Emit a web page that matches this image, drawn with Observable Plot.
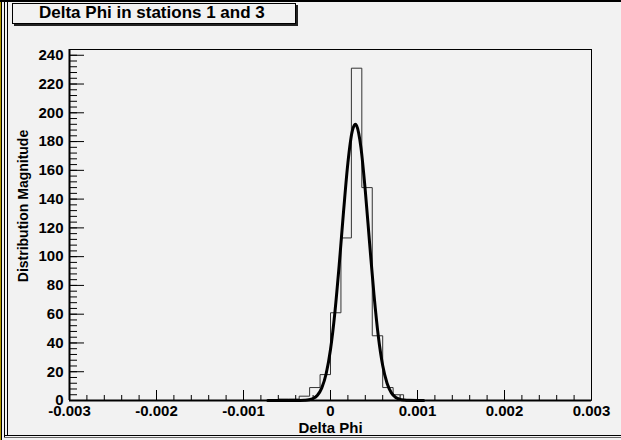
<!DOCTYPE html>
<html>
<head>
<meta charset="utf-8">
<script src="https://cdn.jsdelivr.net/npm/d3@7"></script>
<script src="https://cdn.jsdelivr.net/npm/@observablehq/plot@0.6"></script>
<style>
  html, body { margin: 0; padding: 0; background: #f2f2f2; }
  #wrap { position: relative; width: 621px; height: 440px; overflow: hidden; background: #f2f2f2;
          font-family: "Liberation Sans", Arial, sans-serif; }
  #chart { position: absolute; left: 0; top: 0; }
  .deco { position: absolute; background: #000; }
  #title { position: absolute; left: 12px; top: 3px; width: 284px; height: 21px; box-sizing: border-box;
           border: 1px solid #000; box-shadow: 2px 2px 0 #222; background: #f2f2f2;
           font-weight: bold; font-size: 17px; line-height: 18px; padding-left: 26px; color: #000; white-space: nowrap; }
</style>
</head>
<body>
<div id="wrap">
  <div id="chart"></div>
  <div class="deco" style="left:0;top:0;width:2px;height:440px;background:#b59a00"></div>
  <div class="deco" style="left:1px;top:0;width:1px;height:440px;"></div>
  <div class="deco" style="left:0;top:0;width:621px;height:2px;"></div>
  <div class="deco" style="left:4px;top:0;width:1px;height:437px;"></div>
  <div class="deco" style="left:7px;top:0;width:1px;height:435px;"></div>
  <div class="deco" style="left:4px;top:435px;width:617px;height:1px;"></div>
  <div class="deco" style="left:4px;top:437px;width:617px;height:1px;background:#666"></div>
  <div id="title">Delta Phi in stations 1 and 3</div>
</div>
<script>
// ---- data ----
const binLow = -0.003;
const binWidth = 0.00012;
const counts = [
  0,0,0,0,0,0,0,0,0,0,
  0,0,0,0,0,0,0,0,0,0,
  1,1,3,9,18,61,113,231,148,45,
  9,4,0,0,0,0,0,0,0,0,
  0,0,0,0,0,0,0,0,0,0
];
const fitX = [-0.00072,-0.0005,-0.0004,-0.0003,-0.00025,-0.0002,-0.00015,-0.0001,-0.00005,0,
              0.00005,0.0001,0.00015,0.0002,0.00025,0.000285,0.0003,0.00035,0.0004,0.00045,
              0.0005,0.00055,0.0006,0.00065,0.0007,0.00075,0.0008,0.00085,0.0009,0.001,0.00107];
const fitY = [0,0,0,0.2,0.5,1.4,3.7,8.8,18.6,35.4,
              60.9,94.2,131.4,165.2,187.2,192,191.1,175.8,145.8,109,
              73.4,44.5,24.3,12,5.3,2.1,0.8,0.3,0.1,0,0];
const xTicks = [-0.003,-0.002,-0.001,0,0.001,0.002,0.003];
const yTicks = [0,20,40,60,80,100,120,140,160,180,200,220,240];
const xLabel = "Delta Phi";
const yLabel = "Distribution Magnitude";

// ---- build tables ----
const steps = counts.map((c, i) => ({x: binLow + i * binWidth, y: c}));
steps.push({x: binLow + counts.length * binWidth, y: counts[counts.length - 1]});
const fit = fitX.map((x, i) => ({x, y: fitY[i]}));
const xMinor = d3.range(0, 31).map(i => -0.003 + i * 0.0002);
const yMinor = d3.range(0, 61).map(i => i * 4);

const fmtX = d => d === 0 ? "0" : d.toFixed(3);
const font = {fontSize: 15, fontWeight: "bold", fill: "#000"};

const chart = Plot.plot({
  width: 621,
  height: 440,
  marginLeft: 69,
  marginRight: 30,
  marginTop: 49,
  marginBottom: 40,
  style: {fontFamily: "'Liberation Sans', Arial, sans-serif", background: "transparent", color: "#000", overflow: "visible"},
  x: {domain: [-0.003, 0.003]},
  y: {domain: [0, 244]},
  marks: [
    Plot.frame({stroke: "#000", strokeWidth: 1}),
    Plot.line(steps, {x: "x", y: "y", curve: "step-after", stroke: "#333", strokeWidth: 1}),
    Plot.line(fit, {x: "x", y: "y", curve: "monotone-x", stroke: "#000", strokeWidth: 3}),
    // ticks (drawn inside the frame)
    Plot.axisX({ticks: xMinor, tickSize: -5, text: null, label: null, stroke: "#000"}),
    Plot.axisX({ticks: xTicks, tickSize: -10, text: null, label: null, stroke: "#000"}),
    Plot.axisY({ticks: yMinor, tickSize: -8, text: null, label: null, stroke: "#000"}),
    Plot.axisY({ticks: yTicks, tickSize: -15, text: null, label: null, stroke: "#000"}),
    // tick labels
    Plot.axisX({ticks: xTicks, tickSize: 0, tickPadding: 5, tickFormat: fmtX, label: null, ...font}),
    Plot.axisY({ticks: yTicks, tickSize: 0, tickPadding: 6, label: null, ...font}),
    // axis lines
    Plot.ruleY([0], {stroke: "#000", strokeWidth: 2}),
    Plot.ruleX([-0.003], {stroke: "#000", strokeWidth: 2}),
    // axis titles
    Plot.text([xLabel], {text: d => d, frameAnchor: "bottom", dy: 32, ...font}),
    Plot.text([yLabel], {text: d => d, frameAnchor: "left", textAnchor: "middle", rotate: -90, dx: -46, dy: -19, ...font, fontSize: 14})
  ]
});
document.getElementById("chart").appendChild(chart);
</script>
</body>
</html>
